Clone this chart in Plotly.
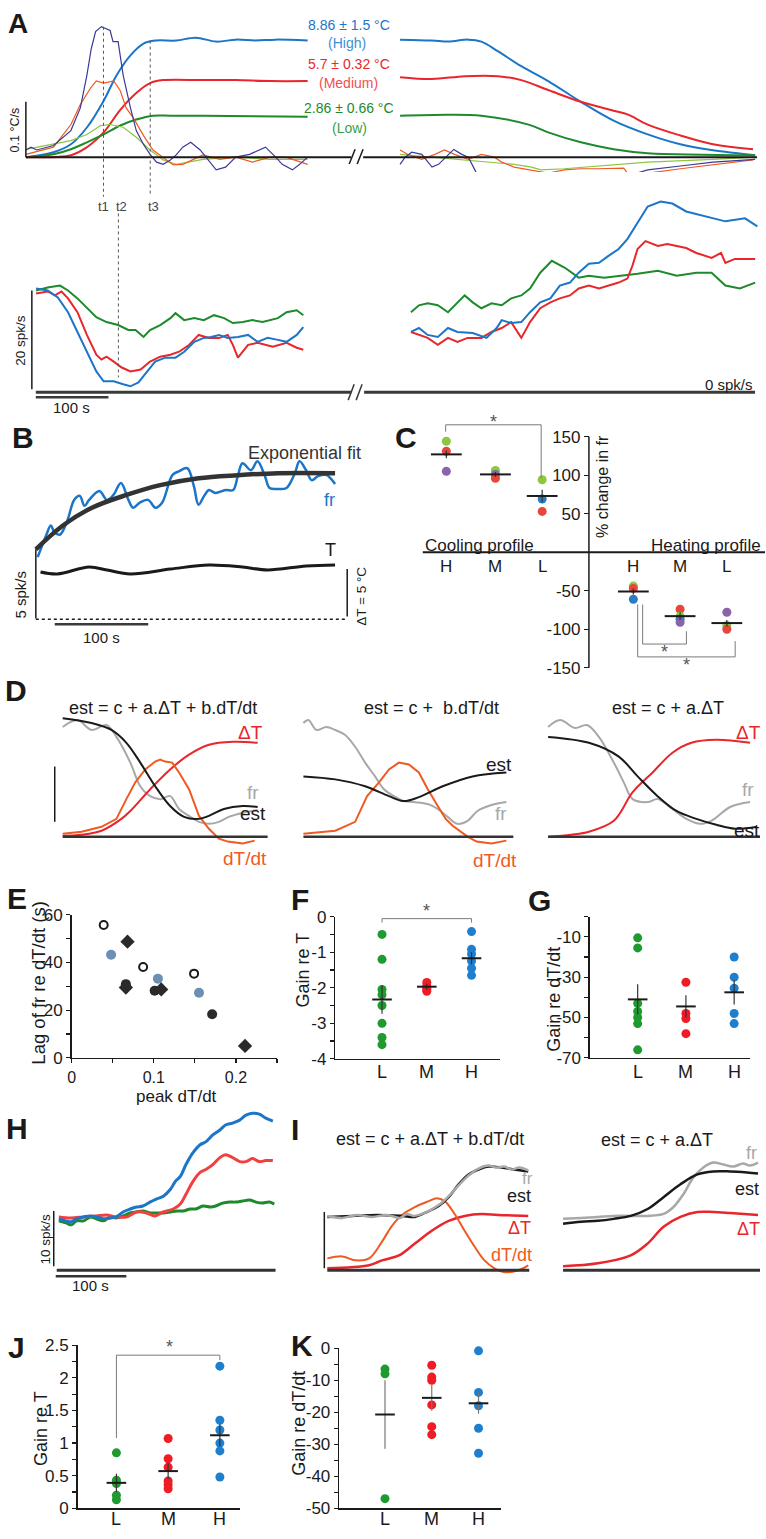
import plotly.graph_objects as go

W, H = 766, 1539
FONT = "Liberation Sans, Arial, Helvetica, sans-serif"

# ---------------- colours ----------------
BLUE = "#1b75c8"
RED = "#e8262b"
GREEN = "#1d8a2c"
NAVY = "#3b3a98"
ORANGE = "#f05a22"
LGREEN = "#8cc540"
GRAY = "#a8a8a8"
INK = "#1a1a1a"
SLATE = "#6d8fb3"
BAR = "#3a3a3a"
BRK = "#7a7a7a"
DOT_GREEN = "#1f9a2f"
DOT_RED = "#ee1c24"
DOT_BLUE = "#1f7fcf"
CELL_COLORS = {"g": "#8dc63f", "r": "#e8453c", "p": "#8a63a9", "b": "#2a7dc4"}

# ================= DATA =================
# ---- Panel A (top): temperature change (degC) during cooling, time in s ----
A_TEMP_HIGH_T = [0, 38, 62, 84, 107, 125, 144, 162, 179, 207, 234, 262, 289, 316, 344, 388]
A_TEMP_HIGH = [0, 0.37, 0.97, 2.24, 4.25, 6.19, 7.69, 8.58, 8.81, 8.81, 9.03, 8.73, 8.88, 8.81, 8.88, 8.81]
A_TEMP_MED_T = [0, 62, 84, 107, 130, 152, 171, 189, 244, 289, 336, 388]
A_TEMP_MED = [0, 0.15, 0.75, 1.87, 3.58, 4.85, 5.60, 5.82, 5.82, 5.82, 5.75, 5.75]
A_TEMP_LOW_T = [0, 38, 62, 84, 107, 130, 152, 175, 199, 244, 388]
A_TEMP_LOW = [0, 0.22, 0.60, 1.12, 1.72, 2.39, 2.84, 3.13, 3.13, 3.13, 3.06]
# recovery (after break)
A_REC_HIGH_T = [18, 62, 85, 112, 130, 153, 185, 222, 267, 312, 359, 404, 449, 507]
A_REC_HIGH = [8.88, 8.81, 8.73, 8.88, 8.73, 7.99, 6.87, 5.75, 4.18, 2.76, 1.72, 0.97, 0.52, 0.15]
A_REC_MED_T = [18, 62, 107, 153, 185, 222, 267, 312, 332, 359, 404, 449, 504]
A_REC_MED = [6.04, 5.90, 6.12, 6.12, 5.82, 5.07, 4.18, 3.51, 3.21, 2.46, 1.64, 0.97, 0.60]
A_REC_LOW_T = [18, 85, 130, 195, 222, 267, 312, 359, 507]
A_REC_LOW = [3.13, 3.21, 3.13, 2.46, 1.87, 1.12, 0.60, 0.30, 0.15]
# rates of change (degC/s)
A_RATE_HIGH_T = [0, 7, 15, 38, 62, 75, 84, 90, 96, 104, 116, 120, 127, 134, 144, 152, 162, 171, 180, 189,
                 199, 207, 216, 227, 240, 248, 262, 275, 289, 308, 330, 344, 353, 367, 377, 388]
A_RATE_HIGH = [0.013, 0.018, 0.013, 0.021, 0.048, 0.089, 0.148, 0.196, 0.227, 0.236, 0.229, 0.209, 0.209,
               0.148, 0.089, 0.048, 0.023, 0.005, -0.009, -0.013, -0.005, 0.004, 0.018, 0.027, 0.013, 0,
               -0.023, -0.018, 0, 0.005, 0.018, 0, -0.013, -0.023, -0.013, 0]
A_RATE_MED_T = [0, 38, 62, 75, 89, 97, 107, 121, 130, 138, 148, 162, 175, 189, 203, 216, 230, 244, 267,
                289, 312, 336, 358, 388]
A_RATE_MED = [0.005, 0.018, 0.059, 0.095, 0.125, 0.138, 0.134, 0.138, 0.120, 0.089, 0.071, 0.039, 0.013,
              0, -0.014, -0.013, -0.005, 0.004, -0.004, 0, -0.009, 0, 0, -0.013]
A_RATE_LOW_T = [0, 38, 62, 84, 103, 116, 134, 152, 171, 189, 207, 244, 289, 336, 388]
A_RATE_LOW = [0.014, 0.023, 0.030, 0.041, 0.057, 0.059, 0.054, 0.036, 0.013, -0.005, -0.013, -0.004, 0,
              -0.004, -0.004]
A_RREC_HIGH_T = [18, 25, 34, 48, 62, 71, 85, 92, 103, 112, 121, 134, 148, 167, 175, 189, 208, 230, 253,
                 258, 264, 285, 312, 336, 359, 404, 449, 507]
A_RREC_HIGH = [-0.013, 0, 0.009, 0.005, -0.018, -0.013, 0.005, 0.014, 0.005, 0, -0.023, -0.059, -0.057,
               -0.055, -0.059, -0.054, -0.048, -0.039, -0.032, -0.036, -0.059, -0.057, -0.045, -0.032,
               -0.023, -0.016, -0.009, -0.004]
A_RREC_MED_T = [18, 30, 48, 66, 79, 93, 112, 130, 148, 158, 175, 199, 222, 244, 267, 290, 312, 326, 333,
                359, 404, 449, 504]
A_RREC_MED = [0.013, 0.004, -0.004, 0.005, 0.013, 0.005, -0.004, 0.005, 0, -0.009, -0.018, -0.023, -0.029,
              -0.023, -0.021, -0.021, -0.020, -0.020, -0.032, -0.029, -0.021, -0.014, -0.005]
A_RREC_LOW_T = [18, 62, 130, 175, 199, 212, 244, 290, 359, 449, 507]
A_RREC_LOW = [0.005, 0, -0.007, -0.013, -0.018, -0.023, -0.021, -0.016, -0.009, -0.004, 0]

# ---- Panel A (bottom): firing rate (spk/s) ----
A_FR_HIGH_T = [14, 30, 44, 58, 71, 84, 97, 107, 121, 134, 144, 155, 164, 178, 192, 206, 218, 232, 245, 255,
               266, 278, 292, 306, 319, 333, 347, 359, 373, 382]
A_FR_HIGH = [21.0, 20.6, 19.2, 16.2, 12.2, 8.2, 4.2, 2.2, 2.2, 1.6, 1.2, 2.0, 3.6, 6.2, 7.0, 7.0, 8.2, 10.2,
             11.0, 11.2, 11.6, 11.0, 11.2, 11.6, 10.2, 11.0, 10.6, 10.2, 11.6, 13.2]
A_FR_MED_T = [14, 30, 40, 49, 58, 71, 84, 97, 104, 111, 121, 132, 144, 158, 171, 185, 199, 211, 225, 238,
              252, 266, 278, 285, 292, 306, 319, 340, 359, 373, 382]
A_FR_MED = [20.0, 20.4, 19.6, 20.4, 19.0, 16.2, 11.6, 7.6, 6.6, 7.2, 6.2, 5.0, 4.2, 4.6, 6.2, 7.2, 7.6, 8.2,
            9.6, 11.6, 11.0, 11.0, 11.6, 9.6, 7.0, 9.6, 10.0, 9.2, 10.0, 9.0, 8.6]
A_FR_LOW_T = [14, 30, 47, 58, 71, 84, 97, 111, 127, 141, 151, 162, 171, 185, 199, 206, 218, 232, 245, 259,
              273, 285, 299, 312, 326, 347, 359, 373, 382]
A_FR_LOW = [20.6, 21.2, 21.6, 20.6, 19.0, 17.0, 15.2, 14.2, 13.6, 12.6, 12.6, 11.2, 12.6, 13.6, 15.0, 16.0,
            14.6, 15.0, 14.6, 15.6, 15.0, 14.0, 14.2, 14.6, 14.2, 15.0, 16.2, 16.6, 15.6]
A_FRR_HIGH_T = [33, 44, 56, 70, 84, 97, 118, 137, 151, 158, 171, 185, 197, 211, 225, 238, 252, 264, 278, 292,
                305, 319, 331, 345, 359, 377, 393, 412, 440, 466, 493, 510]
A_FRR_HIGH = [12.2, 13.0, 11.6, 11.2, 13.0, 12.2, 12.0, 11.0, 13.0, 14.6, 14.0, 14.2, 16.2, 18.2, 19.0, 21.6,
              22.2, 24.2, 26.0, 26.2, 27.6, 29.0, 31.0, 34.2, 37.6, 38.6, 38.2, 36.6, 35.6, 34.6, 35.2, 33.6]
A_FRR_MED_T = [33, 44, 56, 70, 84, 97, 111, 130, 144, 158, 171, 185, 197, 211, 225, 238, 252, 264, 278, 292,
               305, 319, 331, 338, 345, 356, 373, 386, 399, 412, 426, 447, 460, 466, 479, 507]
A_FRR_MED = [12.2, 11.6, 11.0, 9.6, 11.0, 10.2, 11.0, 11.0, 12.2, 13.0, 14.2, 11.0, 14.2, 17.0, 18.2, 19.0,
             19.6, 21.0, 21.6, 21.0, 21.6, 22.2, 23.0, 25.6, 29.0, 30.6, 29.6, 30.0, 29.6, 29.2, 28.2, 27.2,
             28.2, 26.2, 27.0, 27.0]
A_FRR_LOW_T = [33, 44, 56, 70, 84, 97, 107, 118, 130, 144, 158, 171, 185, 197, 211, 227, 245, 264, 278, 299,
               326, 345, 373, 399, 426, 447, 466, 486, 507]
A_FRR_LOW = [16.2, 17.6, 18.0, 17.6, 16.2, 18.2, 19.6, 18.2, 17.0, 18.0, 17.6, 19.0, 19.6, 21.0, 24.2, 26.6,
             25.2, 23.2, 23.6, 23.2, 23.6, 24.0, 24.6, 23.6, 24.2, 24.2, 21.6, 21.0, 22.2]

# ---- Panel B ----
B_FIT_T = [0, 29, 60, 97, 133, 174, 216, 259, 320]
B_FIT = [5.07, 6.79, 8.07, 9.0, 9.71, 10.21, 10.43, 10.57, 10.57]
B_FR_T = [2, 11, 16, 20, 26, 34, 41, 47, 52, 57, 68, 76, 83, 91, 99, 104, 111, 120, 128, 135, 146, 153, 162,
          169, 174, 180, 185, 192, 203, 211, 216, 221, 230, 237, 245, 250, 259, 268, 277, 282, 289, 295, 302,
          311, 315, 320]
B_FR = [4.5, 6.07, 6.79, 6.29, 6.14, 7.21, 8.64, 8.93, 8.21, 8.64, 9.29, 8.64, 9.0, 9.86, 8.64, 8.07, 8.43,
        8.64, 8.07, 8.43, 10.43, 10.71, 10.93, 9.64, 8.29, 8.93, 9.36, 9.14, 9.36, 9.36, 10.36, 11.29, 10.79,
        11.43, 10.36, 9.5, 9.43, 9.5, 10.57, 11.43, 10.79, 10.07, 10.36, 10.43, 10.21, 9.79]
B_TEMP_T = [5, 23, 57, 76, 101, 144, 185, 221, 248, 289, 320]
B_TEMP = [5.0, 4.79, 5.52, 5.21, 4.79, 5.31, 5.73, 5.52, 5.21, 5.63, 5.73]

# ---- Panel C: % change in firing rate ----
C_GROUPS = ["H", "M", "L"]
C_COOL = [[144, 131, 105], [106, 101, 96], [94, 69, 53]]
C_COOL_CELL = [["g", "r", "p"], ["g", "p", "r"], ["g", "b", "r"]]
C_HEAT = [[-44, -47, -61], [-74, -83, -87, -91], [-78, -95, -100]]
C_HEAT_CELL = [["g", "r", "b"], ["r", "g", "b", "p"], ["p", "g", "r"]]
C_COOL_MEAN = [127, 101, 73]
C_COOL_SEM = [5, 3, 8]
C_HEAT_MEAN = [-51, -83, -92]
C_HEAT_SEM = [4, 5, 4]

# ---- Panel D (normalised units, time in samples) ----
D1_DT_T = [0, 19, 39, 59, 68, 88, 108, 127, 147, 171, 196]
D1_DT = [0.01, 0.02, 0.06, 0.18, 0.26, 0.48, 0.68, 0.83, 0.93, 0.96, 0.95]
D1_RATE_T = [0, 19, 39, 54, 64, 73, 83, 93, 98, 103, 110, 117, 127, 137, 147, 157, 166, 181, 193]
D1_RATE = [0.03, 0.05, 0.10, 0.18, 0.38, 0.55, 0.68, 0.76, 0.78, 0.76, 0.75, 0.65, 0.48, 0.21, 0.08, -0.02,
           -0.05, -0.07, -0.04]
D1_FR_T = [0, 15, 29, 44, 54, 68, 78, 88, 98, 108, 117, 127, 137, 147, 157, 167, 181, 196]
D1_FR = [1.11, 1.18, 1.08, 1.13, 1.01, 0.75, 0.51, 0.41, 0.38, 0.41, 0.28, 0.21, 0.15, 0.13, 0.15, 0.20,
         0.24, 0.27]
D1_EST_T = [0, 29, 49, 64, 78, 93, 108, 122, 137, 147, 162, 181, 196]
D1_EST = [1.20, 1.15, 1.08, 0.95, 0.75, 0.51, 0.31, 0.20, 0.18, 0.21, 0.28, 0.31, 0.30]
D2_FR_T = [0, 5, 13, 23, 32, 42, 52, 62, 72, 81, 91, 101, 111, 125, 135, 145, 155, 165, 175, 189, 204]
D2_FR = [1.15, 1.18, 1.08, 1.11, 1.08, 1.03, 0.91, 0.75, 0.61, 0.48, 0.41, 0.36, 0.35, 0.33, 0.28, 0.20,
         0.13, 0.16, 0.26, 0.32, 0.35]
D2_EST_T = [0, 32, 62, 86, 101, 116, 140, 170, 204]
D2_EST = [0.61, 0.58, 0.51, 0.41, 0.36, 0.40, 0.51, 0.61, 0.65]
D2_RATE_T = [0, 32, 52, 64, 76, 86, 96, 106, 116, 125, 135, 143, 150, 165, 174, 189, 204]
D2_RATE = [0.03, 0.06, 0.15, 0.41, 0.55, 0.68, 0.75, 0.73, 0.65, 0.48, 0.31, 0.18, 0.11, 0.00, -0.05, -0.07,
           -0.04]
D3_FR_T = [0, 12, 27, 39, 51, 66, 76, 85, 100, 110, 125, 139, 153, 164, 183, 203]
D3_FR = [1.11, 1.18, 1.10, 1.13, 1.01, 0.75, 0.55, 0.38, 0.35, 0.38, 0.28, 0.18, 0.13, 0.16, 0.30, 0.35]
D3_EST_T = [0, 41, 71, 90, 110, 129, 149, 169, 188, 210]
D3_EST = [1.01, 0.95, 0.81, 0.61, 0.41, 0.26, 0.18, 0.12, 0.08, 0.10]
D3_DT_T = [0, 23, 41, 66, 85, 105, 125, 144, 169, 203]
D3_DT = [0.00, 0.02, 0.05, 0.16, 0.45, 0.65, 0.85, 0.95, 0.98, 0.95]

# ---- Panel E: lag vs peak dT/dt ----
E_OPEN_X = [0.039, 0.087, 0.149]
E_OPEN_Y = [55.7, 38.1, 35.3]
E_SLATE_X = [0.048, 0.105, 0.155]
E_SLATE_Y = [43.2, 33.2, 27.3]
E_DOT_X = [0.066, 0.101, 0.171]
E_DOT_Y = [30.9, 28.1, 18.3]
E_DIAM_X = [0.068, 0.066, 0.109, 0.211]
E_DIAM_Y = [48.7, 29.5, 28.7, 5.0]

# ---- Panels F, G (cooling gains) ----
F_L = [-0.5, -1.2, -2.05, -2.2, -2.5, -3.0, -3.4, -3.6]
F_M = [-1.85, -1.95, -2.0, -2.05, -2.1]
F_H = [-0.42, -0.92, -1.05, -1.25, -1.45, -1.65]
F_MEAN = [-2.33, -1.97, -1.17]
F_SEM = [0.4, 0.08, 0.17]
G_L = [-10.5, -15.5, -43, -47, -50, -53, -66]
G_M = [-32.5, -48, -50.5, -58]
G_H = [-20, -30, -35.5, -48, -53]
G_MEAN = [-41, -44.5, -37.5]
G_SEM = [7.5, 5.5, 6]

# ---- Panel H: firing rate during heating (spk/s) ----
H_HIGH_T = [3, 13, 20, 28, 38, 48, 56, 66, 76, 84, 94, 104, 113, 122, 132, 141, 151, 161, 168, 175, 183, 193,
            203, 211, 221, 231, 239, 249, 259, 268, 277, 287, 296, 306]
H_HIGH = [9.29, 8.93, 8.75, 9.29, 9.64, 9.82, 9.64, 9.29, 9.46, 9.64, 10.54, 11.07, 11.43, 11.61, 12.32, 12.86,
          13.39, 14.64, 16.07, 16.96, 19.11, 21.25, 22.68, 23.21, 24.46, 25.36, 26.25, 26.61, 27.14, 28.04,
          28.39, 28.21, 27.5, 26.96]
H_MED_T = [3, 20, 38, 56, 70, 84, 99, 113, 127, 139, 151, 165, 175, 183, 193, 203, 211, 221, 231, 239, 249,
           259, 268, 277, 287, 296, 306]
H_MED = [9.64, 9.46, 9.64, 9.82, 10.0, 9.64, 9.64, 10.54, 10.36, 9.82, 10.54, 11.07, 11.96, 13.75, 16.07,
         17.68, 18.21, 19.11, 20.36, 20.89, 20.36, 19.64, 19.64, 20.18, 19.64, 19.82, 19.82]
H_LOW_T = [3, 13, 21, 28, 38, 48, 56, 66, 76, 84, 94, 104, 113, 122, 132, 141, 151, 161, 170, 179, 189, 197,
           207, 218, 225, 235, 245, 253, 263, 273, 282, 291, 301, 308]
H_LOW = [8.93, 8.57, 8.21, 8.93, 8.93, 9.64, 9.29, 8.93, 9.64, 9.46, 9.82, 10.36, 10.54, 10.71, 10.36, 10.36,
         10.36, 10.54, 10.71, 10.71, 11.07, 11.07, 11.61, 11.43, 11.61, 12.14, 12.32, 12.32, 12.5, 12.68,
         12.32, 12.14, 12.32, 11.96]

# ---- Panel I (normalised units) ----
I1_EST_T = [0, 25, 50, 75, 88, 98, 112, 122, 132, 142, 152, 162, 175, 188, 202]
I1_EST = [0.54, 0.55, 0.56, 0.55, 0.54, 0.58, 0.65, 0.74, 0.87, 0.97, 1.02, 1.05, 1.04, 1.02, 1.00]
I1_FR_T = [0, 15, 30, 45, 60, 73, 80, 87, 98, 112, 122, 132, 142, 152, 162, 170, 178, 185, 193, 202]
I1_FR = [0.55, 0.53, 0.56, 0.54, 0.56, 0.53, 0.57, 0.55, 0.58, 0.66, 0.75, 0.86, 0.96, 1.03, 1.06, 1.04,
         1.05, 1.02, 1.04, 1.01]
I1_RATE_T = [0, 15, 28, 42, 55, 65, 75, 88, 102, 110, 118, 128, 138, 148, 158, 168, 178, 192, 202]
I1_RATE = [0.12, 0.14, 0.10, 0.12, 0.29, 0.45, 0.56, 0.64, 0.70, 0.73, 0.70, 0.57, 0.40, 0.24, 0.10, 0.02,
           -0.02, 0.00, 0.05]
I1_DT_T = [0, 42, 55, 72, 88, 105, 122, 138, 155, 172, 202]
I1_DT = [0.02, 0.05, 0.10, 0.15, 0.27, 0.40, 0.50, 0.55, 0.57, 0.56, 0.55]
I2_FR_T = [0, 18, 35, 51, 68, 85, 101, 111, 121, 131, 141, 151, 161, 171, 181, 188, 196]
I2_FR = [0.52, 0.53, 0.54, 0.55, 0.55, 0.55, 0.57, 0.64, 0.77, 0.94, 1.04, 1.09, 1.07, 1.05, 1.08, 1.06, 1.09]
I2_EST_T = [0, 18, 35, 51, 68, 85, 101, 118, 135, 151, 168, 185, 196]
I2_EST = [0.47, 0.49, 0.50, 0.52, 0.55, 0.62, 0.74, 0.87, 0.97, 1.00, 1.00, 0.99, 0.98]
I2_DT_T = [0, 35, 68, 85, 101, 118, 135, 151, 168, 196]
I2_DT = [0.04, 0.07, 0.15, 0.27, 0.44, 0.54, 0.59, 0.59, 0.58, 0.56]

# ---- Panels J, K (heating gains) ----
J_L = [0.85, 0.43, 0.38, 0.2, 0.13]
J_M = [1.07, 0.76, 0.63, 0.42, 0.36, 0.3]
J_H = [2.18, 1.35, 1.2, 1.0, 0.88, 0.48]
J_MEAN = [0.39, 0.57, 1.12]
J_SEM = [0.14, 0.12, 0.17]
K_L = [-6.5, -8, -47]
K_M = [-5.3, -9, -10, -17.7, -24.5, -27]
K_H = [-0.8, -13.8, -18, -25, -32.8]
K_MEAN = [-20.7, -15.5, -17.2]
K_SEM = [10.7, 4, 3.3]

GROUP_LABELS = ["L", "M", "H"]

# ================= FIGURE =================
fig = go.Figure()
LAY = {}
SHAPES = []
ANN = []


def names(n):
    s = "" if n == 1 else str(n)
    return "xaxis" + s, "yaxis" + s, "x" + s, "y" + s


def axes(n, xpx, ypx, fx, fy):
    xk, yk, xr, yr = names(n)
    LAY[xk] = dict(domain=[xpx[0] / W, xpx[1] / W], range=[fx(xpx[0]), fx(xpx[1])], anchor=yr,
                   visible=False, fixedrange=True, showgrid=False, zeroline=False)
    LAY[yk] = dict(domain=[1 - ypx[1] / H, 1 - ypx[0] / H], range=[fy(ypx[1]), fy(ypx[0])], anchor=xr,
                   visible=False, fixedrange=True, showgrid=False, zeroline=False)


def lines(n, x, y, color, width, shape="linear"):
    _, _, xr, yr = names(n)
    fig.add_trace(go.Scatter(x=x, y=y, mode="lines", line=dict(color=color, width=width, shape=shape),
                             xaxis=xr, yaxis=yr, showlegend=False, hoverinfo="skip"))


def dots(n, x, y, color, size=9, symbol="circle", lw=0):
    _, _, xr, yr = names(n)
    fig.add_trace(go.Scatter(x=x, y=y, mode="markers",
                             marker=dict(color=color, size=size, symbol=symbol, line=dict(width=lw, color=color)),
                             xaxis=xr, yaxis=yr, showlegend=False, hoverinfo="skip", cliponaxis=False))


def means(n, x, m, e, size=14, ecolor="#333"):
    _, _, xr, yr = names(n)
    fig.add_trace(go.Scatter(x=x, y=m, mode="markers",
                             marker=dict(symbol="line-ew", size=size, color=INK, line=dict(width=2, color=INK)),
                             error_y=dict(type="data", array=e, visible=True, color=ecolor, thickness=1.2, width=0),
                             xaxis=xr, yaxis=yr, showlegend=False, hoverinfo="skip", cliponaxis=False))


def seg(x0, y0, x1, y1, color=INK, width=1.5, dash=None):
    SHAPES.append(dict(type="line", xref="paper", yref="paper", x0=x0 / W, y0=1 - y0 / H, x1=x1 / W,
                       y1=1 - y1 / H, line=dict(color=color, width=width, dash=dash)))


def txt(x, y, s, size=14, color=INK, angle=0, bold=False, xanchor="center"):
    ANN.append(dict(xref="paper", yref="paper", x=x / W, y=1 - y / H, text=f"<b>{s}</b>" if bold else s,
                    showarrow=False, font=dict(family=FONT, size=size, color=color), textangle=angle,
                    xanchor=xanchor, yanchor="middle"))


def show_axes(n, xvals, xtext, yvals, ytext, xticks="", size=17, show_x_labels=True, xsize=None):
    xk, yk, _, _ = names(n)
    common = dict(visible=True, showline=True, linecolor=INK, linewidth=1.5, tickmode="array",
                  tickcolor=INK, tickwidth=1.2, ticklen=4)
    LAY[xk].update(common, tickvals=xvals, ticktext=xtext, ticks=xticks, showticklabels=show_x_labels,
                   tickfont=dict(family=FONT, size=xsize or size, color=INK))
    LAY[yk].update(common, tickvals=yvals, ticktext=ytext, ticks="outside",
                   tickfont=dict(family=FONT, size=size, color=INK))


def group_labels(x_left_px, px_per_group, y):
    for i, g in enumerate(GROUP_LABELS):
        txt(x_left_px + i * px_per_group, y, g, 18)


# ---------------- Panel A ----------------
fxA_L = lambda p: (p - 22) * 100 / 73
fxA_R = lambda p: (p - 385) * 100 / 73
fT = lambda p: (150 - p) / 13.4
fR = lambda p: (150 - p) / 560
axes(1, (22, 350), (5, 165), fxA_L, fT)
axes(2, (22, 350), (5, 165), fxA_L, fR)
axes(3, (360, 762), (5, 165), fxA_R, fT)
axes(4, (360, 762), (5, 165), fxA_R, fR)
for (tx, ty, c) in [(A_TEMP_HIGH_T, A_TEMP_HIGH, BLUE), (A_TEMP_MED_T, A_TEMP_MED, RED),
                    (A_TEMP_LOW_T, A_TEMP_LOW, GREEN)]:
    lines(1, tx, ty, c, 2, "spline")
for (tx, ty, c) in [(A_REC_HIGH_T, A_REC_HIGH, BLUE), (A_REC_MED_T, A_REC_MED, RED),
                    (A_REC_LOW_T, A_REC_LOW, GREEN)]:
    lines(3, tx, ty, c, 2, "spline")
for (tx, ty, c) in [(A_RATE_LOW_T, A_RATE_LOW, LGREEN), (A_RATE_MED_T, A_RATE_MED, ORANGE),
                    (A_RATE_HIGH_T, A_RATE_HIGH, NAVY)]:
    lines(2, tx, ty, c, 1.2)
for (tx, ty, c) in [(A_RREC_LOW_T, A_RREC_LOW, LGREEN), (A_RREC_MED_T, A_RREC_MED, ORANGE),
                    (A_RREC_HIGH_T, A_RREC_HIGH, NAVY)]:
    lines(4, tx, ty, c, 1.2)

fS = lambda p: (388 - p) / 5
axes(5, (22, 350), (185, 398), fxA_L, fS)
axes(6, (360, 762), (185, 398), fxA_R, fS)
for (tx, ty, c) in [(A_FR_LOW_T, A_FR_LOW, GREEN), (A_FR_MED_T, A_FR_MED, RED), (A_FR_HIGH_T, A_FR_HIGH, BLUE)]:
    lines(5, tx, ty, c, 2)
for (tx, ty, c) in [(A_FRR_LOW_T, A_FRR_LOW, GREEN), (A_FRR_MED_T, A_FRR_MED, RED),
                    (A_FRR_HIGH_T, A_FRR_HIGH, BLUE)]:
    lines(6, tx, ty, c, 2)

seg(22, 150, 349, 150, INK, 2)
seg(361, 150, 757, 150, INK, 2)
seg(347, 157, 353, 142, INK, 1.5)
seg(355, 157, 361, 142, INK, 1.5)
seg(22, 94, 22, 150, INK, 1.5)
seg(100, 18, 100, 190, "#555", 1, "dot")
seg(147, 32, 147, 190, "#555", 1, "dot")
seg(115, 207, 115, 373, "#555", 1, "dot")
seg(32, 388, 349, 388, BAR, 3)
seg(362, 388, 755, 388, BAR, 3)
seg(346, 396, 352, 380, BAR, 1.5)
seg(354, 396, 360, 380, BAR, 1.5)
seg(28, 285, 28, 385, INK, 1.5)
seg(32, 393, 105, 393, BAR, 2.5)

txt(14, 15, "A", 28, INK, bold=True)
txt(347, 16, "8.86 ± 1.5 °C", 14, BLUE)
txt(345, 34, "(High)", 14, "#3d8fd6")
txt(347, 56, "5.7 ± 0.32 °C", 14, RED)
txt(346, 75, "(Medium)", 14, "#f0504f")
txt(347, 100, "2.86 ± 0.66 °C", 14, GREEN)
txt(347, 120, "(Low)", 14, "#3aa04a")
txt(12, 122, "0.1 °C/s", 12.5, INK, -90)
txt(100, 200, "t1", 13, "#444")
txt(118, 200, "t2", 13, "#444")
txt(150, 200, "t3", 13, "#444")
txt(17, 335, "20 spk/s", 13.5, INK, -90)
txt(755, 380, "0 spk/s", 15, INK, xanchor="right")
txt(68, 403, "100 s", 15)

# ---------------- Panel B ----------------
fxB = lambda p: (p - 32) * 100 / 94
fB_fr = lambda p: (618 - p) / 14
fB_T = lambda p: (618 - p) / 9.6
axes(7, (28, 350), (425, 630), fxB, fB_fr)
axes(8, (28, 350), (425, 630), fxB, fB_T)
lines(7, B_FR_T, B_FR, BLUE, 2.5, "spline")
lines(7, B_FIT_T, B_FIT, "#333333", 4.5, "spline")
lines(8, B_TEMP_T, B_TEMP, INK, 3, "spline")
seg(32, 547, 32, 617, INK, 1.5)
seg(345, 567, 345, 615, INK, 1.5)
seg(32, 618, 343, 618, INK, 1.5, "dot")
seg(51, 623, 145, 623, BAR, 2.5)
txt(19, 434, "B", 30, INK, bold=True)
txt(302, 450, "Exponential fit", 18, "#333")
txt(327, 497, "fr", 18, BLUE)
txt(328, 548, "T", 18, INK)
txt(17, 593, "5 spk/s", 15, INK, -90)
txt(360, 595, "ΔT = 5 °C", 13.5, INK, -90)
txt(98, 636, "100 s", 15)

# ---------------- Panel C ----------------
C_COOL_POS = [-3.05, -2.0, -1.0]
C_HEAT_POS = [0.95, 1.95, 2.95]
fxC = lambda p: (p - 588) / 47
fyC = lambda p: (550 - p) / 0.78
axes(9, (421, 765), (405, 675), fxC, fyC)
_, ykC, _, _ = names(9)
LAY[ykC].update(visible=True, showline=False, anchor="free", position=588 / W, ticks="outside", ticklen=5,
                tickwidth=1.2, tickcolor=INK, tickmode="array", tickvals=[-150, -100, -50, 50, 100, 150],
                ticktext=["-150", "-100", "-50", "50", "100", "150"], tickfont=dict(family=FONT, size=17, color=INK))
for pos, vals, cells in zip(C_COOL_POS + C_HEAT_POS, C_COOL + C_HEAT, C_COOL_CELL + C_HEAT_CELL):
    dots(9, [pos] * len(vals), vals, [CELL_COLORS[c] for c in cells], 9)
means(9, C_COOL_POS + C_HEAT_POS, C_COOL_MEAN + C_HEAT_MEAN, C_COOL_SEM + C_HEAT_SEM, 22)
seg(588, 433, 588, 667, INK, 1.5)
seg(421, 550, 765, 550, INK, 2)
seg(444, 428, 444, 421, BRK, 1)
seg(444, 421, 540, 421, BRK, 1)
seg(540, 421, 540, 475, BRK, 1)
seg(642, 603, 642, 643, BRK, 1)
seg(642, 643, 686, 643, BRK, 1)
seg(686, 643, 686, 630, BRK, 1)
seg(637, 603, 637, 656, BRK, 1)
seg(637, 656, 735, 656, BRK, 1)
seg(735, 656, 735, 640, BRK, 1)
txt(404, 434, "C", 30, INK, bold=True)
txt(492, 418, "*", 18, "#555")
txt(601, 483, "% change in fr", 16, INK, -90)
txt(478, 543, "Cooling profile", 17)
txt(706, 543, "Heating profile", 17)
for p, g in zip(C_COOL_POS, C_GROUPS):
    txt(588 + 47 * p, 564, g, 17)
for p, g in zip(C_HEAT_POS, C_GROUPS):
    txt(588 + 47 * p, 564, g, 17)
txt(664, 651, "*", 18, "#555")
txt(686, 664, "*", 18, "#555")

# ---------------- Panel D ----------------
fyD = lambda p: (838 - p) / 100
axes(10, (44, 268), (700, 870), lambda p: p - 59, fyD)
axes(11, (294, 516), (700, 870), lambda p: p - 301, fyD)
axes(12, (540, 764), (700, 870), lambda p: p - 547, fyD)
lines(10, D1_FR_T, D1_FR, GRAY, 2, "spline")
lines(10, D1_DT_T, D1_DT, RED, 2, "spline")
lines(10, D1_RATE_T, D1_RATE, ORANGE, 2)
lines(10, D1_EST_T, D1_EST, INK, 2, "spline")
lines(11, D2_FR_T, D2_FR, GRAY, 2, "spline")
lines(11, D2_RATE_T, D2_RATE, ORANGE, 2)
lines(11, D2_EST_T, D2_EST, INK, 2, "spline")
lines(12, D3_FR_T, D3_FR, GRAY, 2, "spline")
lines(12, D3_DT_T, D3_DT, RED, 2, "spline")
lines(12, D3_EST_T, D3_EST, INK, 2, "spline")
seg(59, 838, 265, 838, "#333", 2.5)
seg(301, 838, 512, 838, "#333", 2.5)
seg(547, 838, 760, 838, "#333", 2.5)
seg(51, 767, 51, 823, INK, 1.5)
txt(12, 690, "D", 30, INK, bold=True)
txt(160, 708, "est = c + a.ΔT + b.dT/dt", 18)
txt(430, 708, "est = c +  b.dT/dt", 18)
txt(667, 708, "est = c + a.ΔT", 18)
txt(248, 733, "ΔT", 19, RED)
txt(250, 793, "fr", 19, GRAY)
txt(250, 815, "est", 19, INK)
txt(242, 860, "dT/dt", 19, ORANGE)
txt(498, 765, "est", 19, INK)
txt(500, 815, "fr", 19, GRAY)
txt(494, 862, "dT/dt", 19, ORANGE)
txt(748, 733, "ΔT", 19, RED)
txt(748, 790, "fr", 19, GRAY)
txt(747, 832, "est", 19, INK)

# ---------------- Panel E ----------------
axes(13, (68, 274.5), (917, 1062), lambda p: (p - 68) / 826, lambda p: (1062 - p) * 60 / 145)
show_axes(13, [0, 0.05, 0.1, 0.15, 0.2, 0.25], ["0", "", "0.1", "", "0.2", ""],
          [0, 10, 20, 30, 40, 50, 60], ["0", "", "20", "", "40", "", "60"], xticks="outside", xsize=16)
dots(13, E_OPEN_X, E_OPEN_Y, INK, 8, "circle-open", 2)
dots(13, E_SLATE_X, E_SLATE_Y, SLATE, 10)
dots(13, E_DOT_X, E_DOT_Y, "#2a2a2a", 10)
dots(13, E_DIAM_X, E_DIAM_Y, "#2a2a2a", 11, "diamond")
txt(13, 901, "E", 30, INK, bold=True)
txt(35, 986, "Lag of fr re dT/dt (s)", 18.5, INK, -90)
txt(173, 1101, "peak dT/dt", 17)

# ---------------- Panel F ----------------
GROUP_POS = [1, 2, 3]
axes(14, (333, 499), (919, 1063), lambda p: 1 + (p - 380) / 45, lambda p: (919 - p) / 36)
show_axes(14, GROUP_POS, GROUP_LABELS, [-4, -3.5, -3, -2.5, -2, -1.5, -1, -0.5, 0],
          ["-4", "", "-3", "", "-2", "", "-1", "", "0"], show_x_labels=False)
group_labels(380, 45, 1076)
dots(14, [1] * len(F_L), F_L, DOT_GREEN)
dots(14, [2] * len(F_M), F_M, DOT_RED)
dots(14, [3] * len(F_H), F_H, DOT_BLUE)
means(14, GROUP_POS, F_MEAN, F_SEM)
seg(380, 925, 380, 921, BRK, 1)
seg(380, 921, 470, 921, BRK, 1)
seg(470, 921, 470, 925, BRK, 1)
txt(298, 902, "F", 30, INK, bold=True)
txt(301, 973, "Gain re T", 18, INK, -90)
txt(425, 913, "*", 18, "#555")

# ---------------- Panel G ----------------
axes(15, (589, 750), (919, 1062), lambda p: 1 + (p - 637) / 48.5, lambda p: (919 - p) * 70 / 143)
show_axes(15, GROUP_POS, GROUP_LABELS, [-70, -60, -50, -40, -30, -20, -10, 0],
          ["-70", "", "-50", "", "-30", "", "-10", ""], show_x_labels=False)
group_labels(637, 48.5, 1076)
dots(15, [1] * len(G_L), G_L, DOT_GREEN)
dots(15, [2] * len(G_M), G_M, DOT_RED)
dots(15, [3] * len(G_H), G_H, DOT_BLUE)
means(15, GROUP_POS, G_MEAN, G_SEM)
txt(538, 903, "G", 30, INK, bold=True)
txt(553, 1003, "Gain re dT/dt", 18, INK, -90)

# ---------------- Panel H ----------------
axes(16, (44, 280), (1100, 1295), lambda p: (p - 53) * 100 / 71, lambda p: (1277 - p) / 5.6)
lines(16, H_LOW_T, H_LOW, GREEN, 3, "spline")
lines(16, H_MED_T, H_MED, "#f04040", 3, "spline")
lines(16, H_HIGH_T, H_HIGH, BLUE, 3, "spline")
seg(53, 1277, 273, 1277, "#333", 3)
seg(50, 1217, 50, 1273, INK, 1.5)
seg(52, 1283, 123, 1283, "#333", 2.5)
txt(13, 1133, "H", 30, INK, bold=True)
txt(42, 1245, "10 spk/s", 13.5, INK, -90)
txt(87, 1292, "100 s", 15)

# ---------------- Panel I ----------------
fyI = lambda p: (1277 - p) / 100
axes(17, (315, 535), (1150, 1290), lambda p: p - 325, fyI)
axes(18, (555, 765), (1150, 1290), lambda p: p - 562, fyI)
lines(17, I1_DT_T, I1_DT, RED, 2.5, "spline")
lines(17, I1_RATE_T, I1_RATE, ORANGE, 2, "spline")
lines(17, I1_EST_T, I1_EST, INK, 2.5, "spline")
lines(17, I1_FR_T, I1_FR, GRAY, 2.5, "spline")
lines(18, I2_DT_T, I2_DT, RED, 2.5, "spline")
lines(18, I2_FR_T, I2_FR, GRAY, 2.5, "spline")
lines(18, I2_EST_T, I2_EST, INK, 2.5, "spline")
seg(325, 1277, 528, 1277, "#333", 3)
seg(562, 1277, 760, 1277, "#333", 3)
seg(322, 1218, 322, 1275, INK, 1.5)
txt(293, 1135, "I", 30, INK, bold=True)
txt(428, 1144, "est = c + a.ΔT + b.dT/dt", 18)
txt(656, 1145, "est = c + a.ΔT", 18)
txt(526, 1184, "fr", 17, GRAY)
txt(518, 1202, "est", 18, INK)
txt(518, 1234, "ΔT", 18, RED)
txt(510, 1262, "dT/dt", 18, ORANGE)
txt(751, 1158, "fr", 18, GRAY)
txt(747, 1195, "est", 18, INK)
txt(748, 1235, "ΔT", 18, RED)

# ---------------- Panel J ----------------
axes(19, (74, 237), (1353, 1518), lambda p: 1 + (p - 113) / 52, lambda p: (1518 - p) / 66)
show_axes(19, GROUP_POS, GROUP_LABELS, [0, 0.25, 0.5, 0.75, 1, 1.25, 1.5, 1.75, 2, 2.25, 2.5],
          ["0", "", "0.5", "", "1", "", "1.5", "", "2", "", "2.5"], show_x_labels=False)
group_labels(113, 52, 1529)
dots(19, [1] * len(J_L), J_L, DOT_GREEN)
dots(19, [2] * len(J_M), J_M, DOT_RED)
dots(19, [3] * len(J_H), J_H, DOT_BLUE)
means(19, GROUP_POS, J_MEAN, J_SEM)
seg(113, 1447, 113, 1363, BRK, 1)
seg(113, 1363, 217, 1363, BRK, 1)
seg(217, 1363, 217, 1368, BRK, 1)
txt(13, 1355, "J", 30, INK, bold=True)
txt(37, 1437, "Gain re T", 18, INK, -90)
txt(166, 1355, "*", 18, "#555")

# ---------------- Panel K ----------------
axes(20, (337, 500), (1356, 1518), lambda p: 1 + (p - 383) / 47, lambda p: (1356 - p) * 50 / 162)
show_axes(20, GROUP_POS, GROUP_LABELS, [-50, -45, -40, -35, -30, -25, -20, -15, -10, -5, 0],
          ["-50", "", "-40", "", "-30", "", "-20", "", "-10", "", "0"], show_x_labels=False)
group_labels(383, 47, 1529)
dots(20, [1] * len(K_L), K_L, DOT_GREEN)
dots(20, [2] * len(K_M), K_M, DOT_RED)
dots(20, [3] * len(K_H), K_H, DOT_BLUE)
means(20, GROUP_POS, K_MEAN, K_SEM, ecolor="#777")
txt(300, 1353, "K", 30, INK, bold=True)
txt(297, 1432, "Gain re dT/dt", 18, INK, -90)

fig.update_layout(width=W, height=H, margin=dict(l=0, r=0, t=0, b=0), paper_bgcolor="white",
                  plot_bgcolor="rgba(0,0,0,0)", showlegend=False, shapes=SHAPES, annotations=ANN,
                  font=dict(family=FONT, color=INK), hovermode=False)
fig.update_layout(LAY)
fig.write_html("out.html", config={"displayModeBar": False, "staticPlot": True},
               post_script="document.body.style.margin='0';document.body.style.overflow='hidden';")
